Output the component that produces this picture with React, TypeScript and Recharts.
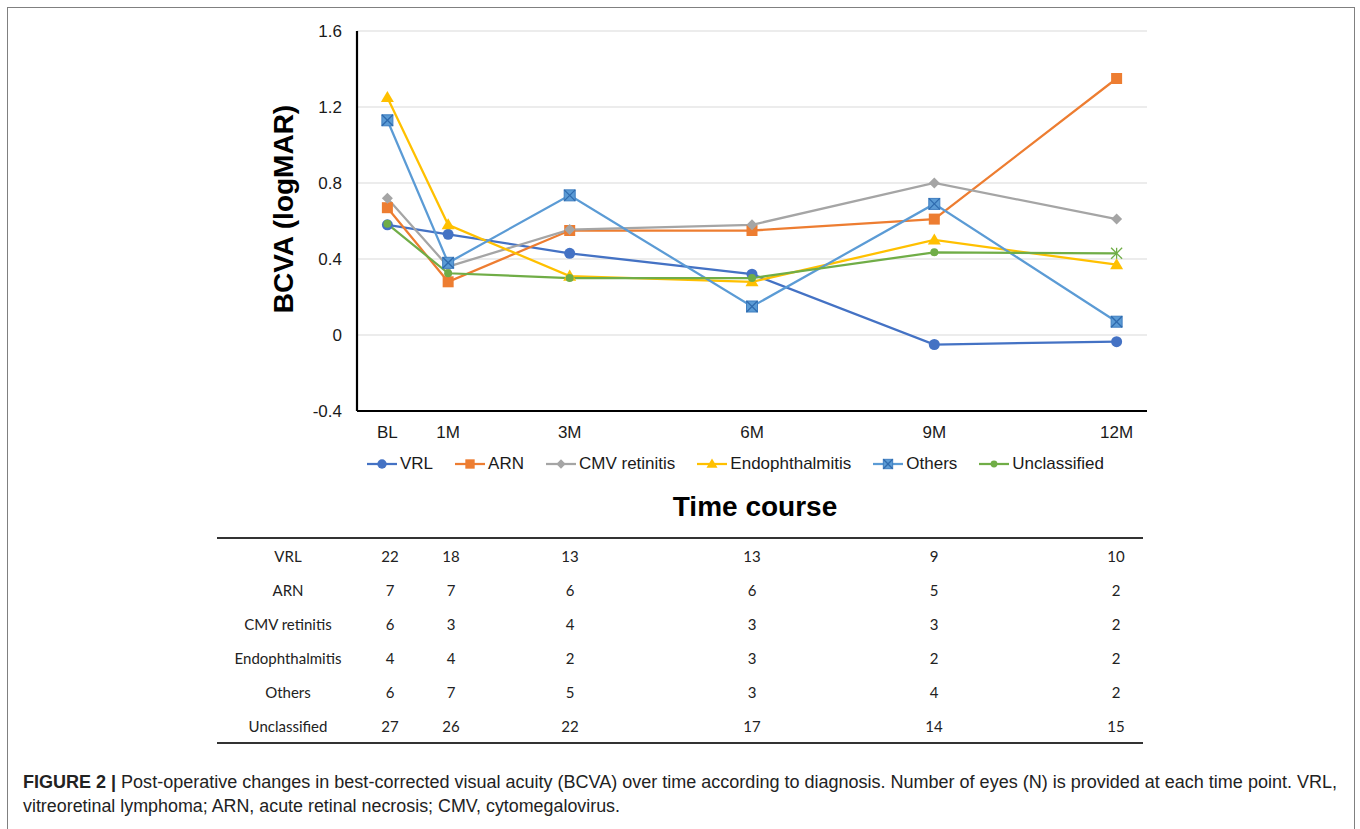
import { LineChart, Line, XAxis, YAxis, CartesianGrid } from 'recharts';

const months = [0, 1, 3, 6, 9, 12];
const timeLabels = ['BL', '1M', '3M', '6M', '9M', '12M'];
const yTicks = [-0.4, 0, 0.4, 0.8, 1.2, 1.6];

const vrl = [0.58, 0.53, 0.43, 0.32, -0.05, -0.035];
const arn = [0.67, 0.28, 0.55, 0.55, 0.61, 1.35];
const cmv = [0.72, 0.36, 0.555, 0.58, 0.8, 0.61];
const endo = [1.25, 0.58, 0.31, 0.28, 0.5, 0.37];
const others = [1.13, 0.38, 0.735, 0.15, 0.69, 0.07];
const unclassified = [0.585, 0.325, 0.3, 0.3, 0.435, 0.43];

const groups = ['VRL', 'ARN', 'CMV retinitis', 'Endophthalmitis', 'Others', 'Unclassified'];
const eyeCounts = [
  [22, 18, 13, 13, 9, 10],
  [7, 7, 6, 6, 5, 2],
  [6, 3, 4, 3, 3, 2],
  [4, 4, 2, 3, 2, 2],
  [6, 7, 5, 3, 4, 2],
  [27, 26, 22, 17, 14, 15],
];

type Kind = 'circle' | 'square' | 'diamond' | 'triangle' | 'xsquare' | 'smallcircle' | 'star';

const series = [
  { key: 'vrl', name: 'VRL', color: '#4472C4', kind: 'circle' as Kind, values: vrl },
  { key: 'arn', name: 'ARN', color: '#ED7D31', kind: 'square' as Kind, values: arn },
  { key: 'cmv', name: 'CMV retinitis', color: '#A5A5A5', kind: 'diamond' as Kind, values: cmv },
  { key: 'endo', name: 'Endophthalmitis', color: '#FFC000', kind: 'triangle' as Kind, values: endo },
  { key: 'others', name: 'Others', color: '#5B9BD5', kind: 'xsquare' as Kind, values: others },
  { key: 'uncl', name: 'Unclassified', color: '#70AD47', kind: 'smallcircle' as Kind, values: unclassified },
];

const data = months.map((m, i) => {
  const row: Record<string, number> = { month: m };
  series.forEach(s => { row[s.key] = s.values[i]; });
  return row;
});

function Marker({ kind, cx, cy, color, scale = 1 }: { kind: Kind; cx: number; cy: number; color: string; scale?: number }) {
  const s = 11 * scale;
  switch (kind) {
    case 'circle':
      return <circle cx={cx} cy={cy} r={5.5 * scale} fill={color} />;
    case 'smallcircle':
      return <circle cx={cx} cy={cy} r={4 * scale} fill={color} />;
    case 'square':
      return <rect x={cx - s / 2} y={cy - s / 2} width={s} height={s} fill={color} />;
    case 'diamond': {
      const d = 5.5 * scale;
      return <polygon points={`${cx},${cy - d} ${cx + d},${cy} ${cx},${cy + d} ${cx - d},${cy}`} fill={color} />;
    }
    case 'triangle': {
      const h = 6.5 * scale;
      return <polygon points={`${cx},${cy - h} ${cx + h},${cy + h * 0.7} ${cx - h},${cy + h * 0.7}`} fill={color} />;
    }
    case 'xsquare':
      return (
        <g>
          <rect x={cx - s / 2} y={cy - s / 2} width={s} height={s} fill={color} stroke="#3F7EC0" strokeWidth={1} />
          <line x1={cx - s / 2} y1={cy - s / 2} x2={cx + s / 2} y2={cy + s / 2} stroke="#2F6BAE" strokeWidth={1.3} />
          <line x1={cx + s / 2} y1={cy - s / 2} x2={cx - s / 2} y2={cy + s / 2} stroke="#2F6BAE" strokeWidth={1.3} />
        </g>
      );
    case 'star': {
      const r = 5.5 * scale;
      return (
        <g stroke={color} strokeWidth={1.3}>
          <line x1={cx - r} y1={cy - r} x2={cx + r} y2={cy + r} />
          <line x1={cx + r} y1={cy - r} x2={cx - r} y2={cy + r} />
          <line x1={cx} y1={cy - r} x2={cx} y2={cy + r} />
        </g>
      );
    }
  }
  return null;
}

const tableX = [390, 451, 570, 752, 934, 1116];
const rowY = [556, 590, 624, 658, 692, 726];

export default function App() {
  return (
    <div style={{ position: 'absolute', left: 0, top: 0, width: 1360, height: 829, background: '#fff', overflow: 'hidden' }}>
      <div style={{ position: 'absolute', left: 7, top: 7, width: 1346, height: 900, borderLeft: '1.5px solid #808080', borderTop: '1.5px solid #808080', borderRight: '1.5px solid #808080' }} />

      <div style={{ position: 'absolute', left: 200, top: 0 }}>
        <LineChart width={1000} height={450} data={data} margin={{ top: 31, right: 53, bottom: 0, left: 0 }}>
          <CartesianGrid vertical={false} stroke="#D9D9D9" strokeWidth={1.2} />
          <XAxis
            dataKey="month"
            type="number"
            domain={[-0.5, 12.5]}
            ticks={months}
            tickFormatter={(v: number) => timeLabels[months.indexOf(v)]}
            height={39}
            axisLine={{ stroke: '#000', strokeWidth: 2.2 }}
            tickLine={false}
            tickSize={6}
            tickMargin={9}
            tick={{ fill: '#1a1a1a', fontSize: 17, fontFamily: 'Liberation Sans, Arial, sans-serif' }}
          />
          <YAxis
            type="number"
            domain={[-0.4, 1.6]}
            ticks={yTicks}
            width={157}
            axisLine={{ stroke: '#000', strokeWidth: 2.2 }}
            tickLine={false}
            tickSize={6}
            tickMargin={9}
            tick={{ fill: '#1a1a1a', fontSize: 17, fontFamily: 'Liberation Sans, Arial, sans-serif' }}
          />
          {series.map(s => (
            <Line
              key={s.key}
              dataKey={s.key}
              name={s.name}
              stroke={s.color}
              strokeWidth={2.25}
              isAnimationActive={false}
              dot={(p: any) => (
                <Marker
                  key={`${s.key}-${p.index}`}
                  kind={s.kind === 'smallcircle' && p.index === months.length - 1 ? 'star' : s.kind}
                  cx={p.cx}
                  cy={p.cy}
                  color={s.color}
                />
              )}
              activeDot={false}
            />
          ))}
        </LineChart>
      </div>

      <svg width={1360} height={829} style={{ position: 'absolute', left: 0, top: 0, pointerEvents: 'none' }}>
        <text
          x={283}
          y={209}
          transform="rotate(-90 283 209)"
          textAnchor="middle"
          dominantBaseline="central"
          fontFamily="Liberation Sans, Arial, sans-serif"
          fontWeight="bold"
          fontSize={28}
          fill="#000"
        >
          BCVA (logMAR)
        </text>
        <text x={755} y={506} textAnchor="middle" dominantBaseline="central" fontFamily="Liberation Sans, Arial, sans-serif" fontWeight="bold" fontSize={28} fill="#000">
          Time course
        </text>

        <line x1={217} y1={538} x2={1143} y2={538} stroke="#333" strokeWidth={1.8} />
        <line x1={217} y1={743} x2={1143} y2={743} stroke="#333" strokeWidth={1.8} />
        {groups.map((g, r) => (
          <g key={g} fontFamily="Lato, sans-serif" fontSize={15} fill="#222">
            <text x={288} y={rowY[r]} textAnchor="middle" dominantBaseline="central">{g}</text>
            {eyeCounts[r].map((n, c) => (
              <text key={c} x={tableX[c]} y={rowY[r]} textAnchor="middle" dominantBaseline="central">{n}</text>
            ))}
          </g>
        ))}

        <text x={23} y={788} fontFamily="Liberation Sans, Arial, sans-serif" fontSize={17.5} fill="#222" textLength={1314} lengthAdjust="spacingAndGlyphs">
          <tspan fontWeight="bold">FIGURE 2 | </tspan>
          Post-operative changes in best-corrected visual acuity (BCVA) over time according to diagnosis. Number of eyes (N) is provided at each time point. VRL,
        </text>
        <text x={23} y={812} fontFamily="Liberation Sans, Arial, sans-serif" fontSize={17.5} fill="#222" textLength={597} lengthAdjust="spacingAndGlyphs">
          vitreoretinal lymphoma; ARN, acute retinal necrosis; CMV, cytomegalovirus.
        </text>
      </svg>

      <div style={{ position: 'absolute', left: 367, top: 453, height: 22, display: 'flex', alignItems: 'center', fontFamily: 'Liberation Sans, Arial, sans-serif', fontSize: 17, color: '#1a1a1a', whiteSpace: 'nowrap' }}>
        {series.map(s => (
          <div key={s.key} style={{ display: 'flex', alignItems: 'center', marginRight: 22 }}>
            <svg width={30} height={16}>
              <line x1={0} y1={8} x2={30} y2={8} stroke={s.color} strokeWidth={2.25} />
              <Marker kind={s.kind} cx={15} cy={8} color={s.color} scale={0.85} />
            </svg>
            <span style={{ marginLeft: 3 }}>{s.name}</span>
          </div>
        ))}
      </div>
    </div>
  );
}
